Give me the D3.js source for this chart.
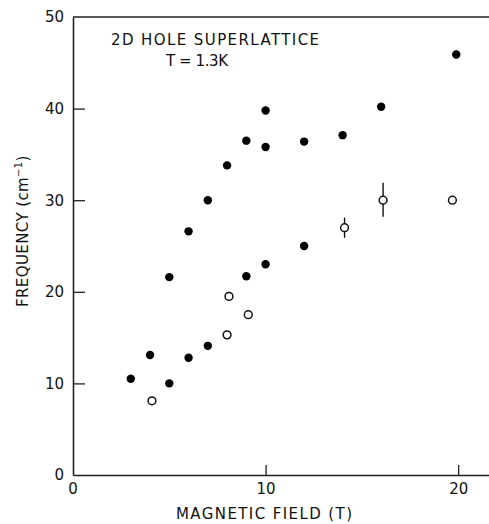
<!DOCTYPE html>
<html>
<head>
<meta charset="utf-8">
<script src="https://cdn.jsdelivr.net/npm/d3@7"></script>
<style>
  body { margin: 0; background: #fff; }
  text { font-family: "DejaVu Sans", "Liberation Sans", sans-serif; fill: #111; }
</style>
</head>
<body>
<div id="vis"></div>
<script>
// Filled circles (field in T, frequency in cm^-1)
var filledField = [3, 4, 5, 5, 6, 6, 7, 7, 8, 9, 9, 10, 10, 10, 12, 12, 14, 16, 19.9];
var filledFreq = [10.5, 13.1, 10.0, 21.6, 12.8, 26.6, 14.1, 30.0, 33.8, 21.7, 36.5, 23.0, 35.8, 39.8, 25.0, 36.4, 37.1, 40.2, 45.9];

// Open circles, with error bars on two of them
var openField = [4.1, 8, 8.1, 9.1, 14.1, 16.1, 19.7];
var openFreq = [8.1, 15.3, 19.5, 17.5, 27.0, 30.0, 30.0];
var openErrLow = [null, null, null, null, 25.9, 28.2, null];
var openErrHigh = [null, null, null, null, 28.1, 31.9, null];

var xTicks = [10, 20];
var yTicks = [10, 20, 30, 40, 50];

var width = 489;
var height = 524;
var margin = { top: 17, left: 73, bottom: 49, right: 0 };

var svg = d3.select('#vis').append('svg')
  .attr('width', width)
  .attr('height', height);

var x = d3.scaleLinear()
  .domain([0, 21.6])
  .range([margin.left, width - margin.right]);

var y = d3.scaleLinear()
  .domain([0, 50])
  .range([height - margin.bottom, margin.top]);

// Top frame line
svg.append('line')
  .attr('x1', x(0)).attr('x2', x(21.6))
  .attr('y1', y(50)).attr('y2', y(50))
  .attr('stroke', '#222').attr('stroke-width', 1.6);

// x axis, ticks point inward
var xAxis = d3.axisBottom(x)
  .tickValues(xTicks)
  .tickSizeInner(-10)
  .tickSizeOuter(0)
  .tickPadding(8)
  .tickFormat(d3.format('d'));

var gx = svg.append('g')
  .attr('transform', 'translate(0,' + y(0) + ')')
  .call(xAxis);

gx.select('.domain').attr('stroke', '#222').attr('stroke-width', 1.6);
gx.selectAll('.tick line').attr('stroke', '#222').attr('stroke-width', 1.3);
gx.selectAll('.tick text')
  .style('font-size', '15px')
  .attr('font-family', null);

// y axis, ticks point inward
var yAxis = d3.axisLeft(y)
  .tickValues(yTicks)
  .tickSizeInner(-12)
  .tickSizeOuter(0)
  .tickPadding(9)
  .tickFormat(d3.format('d'));

var gy = svg.append('g')
  .attr('transform', 'translate(' + x(0) + ',0)')
  .call(yAxis);

gy.select('.domain').attr('stroke', '#222').attr('stroke-width', 1.6);
gy.selectAll('.tick line').attr('stroke', '#222').attr('stroke-width', 1.3);
// the 50 label has no tick mark
gy.selectAll('.tick').filter(function (d) { return d === 50; })
  .select('line').remove();
gy.selectAll('.tick text')
  .style('font-size', '15px')
  .attr('font-family', null);

// the origin zeros
svg.append('text')
  .attr('x', x(0) - 9).attr('y', y(0) + 5)
  .attr('text-anchor', 'end')
  .style('font-size', '15px')
  .text('0');

svg.append('text')
  .attr('x', x(0)).attr('y', y(0) + 8)
  .attr('text-anchor', 'middle')
  .attr('dy', '0.71em')
  .style('font-size', '15px')
  .text('0');

// Error bars
var errs = openField.map(function (d, i) {
  return { x: d, lo: openErrLow[i], hi: openErrHigh[i] };
}).filter(function (d) { return d.lo !== null; });

svg.selectAll('.err').data(errs)
  .enter().append('line')
  .attr('class', 'err')
  .attr('x1', function (d) { return x(d.x); })
  .attr('x2', function (d) { return x(d.x); })
  .attr('y1', function (d) { return y(d.lo); })
  .attr('y2', function (d) { return y(d.hi); })
  .attr('stroke', '#111')
  .attr('stroke-width', 1.4);

// Open circles
svg.selectAll('.open').data(openField)
  .enter().append('circle')
  .attr('class', 'open')
  .attr('cx', function (d) { return x(d); })
  .attr('cy', function (d, i) { return y(openFreq[i]); })
  .attr('r', 3.9)
  .attr('fill', '#fff')
  .attr('stroke', '#111')
  .attr('stroke-width', 1.5);

// Filled circles
svg.selectAll('.filled').data(filledField)
  .enter().append('circle')
  .attr('class', 'filled')
  .attr('cx', function (d) { return x(d); })
  .attr('cy', function (d, i) { return y(filledFreq[i]); })
  .attr('r', 4.2)
  .attr('fill', '#000');

// Titles
svg.append('text')
  .attr('x', 111).attr('y', 45)
  .attr('textLength', 208)
  .attr('lengthAdjust', 'spacing')
  .style('font-size', '15px')
  .text('2D HOLE SUPERLATTICE');

svg.append('text')
  .attr('x', 166).attr('y', 66)
  .attr('textLength', 62)
  .attr('lengthAdjust', 'spacing')
  .style('font-size', '15px')
  .text('T = 1.3K');

// Axis labels
svg.append('text')
  .attr('x', 176).attr('y', 519)
  .attr('textLength', 176)
  .attr('lengthAdjust', 'spacing')
  .style('font-size', '15px')
  .text('MAGNETIC FIELD (T)');

var yl = svg.append('text')
  .attr('transform', 'translate(28,307) rotate(-90)')
  .style('font-size', '15px')
  .style('letter-spacing', '0.4px');
yl.append('tspan').text('FREQUENCY (cm');
yl.append('tspan').attr('dy', -6).style('font-size', '10px').text('\u22121');
yl.append('tspan').attr('dy', 6).text(')');
</script>
</body>
</html>
